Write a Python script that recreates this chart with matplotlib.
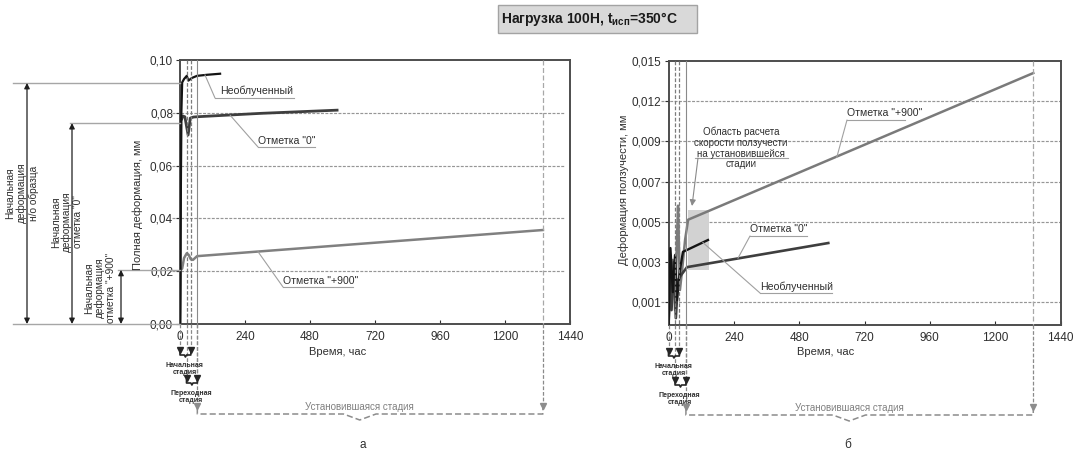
import numpy as np
import matplotlib
matplotlib.use('Agg')
import matplotlib.pyplot as plt
from matplotlib import transforms as mtransforms
from matplotlib.patches import Rectangle

plt.rcParams['font.family'] = ['Liberation Sans', 'DejaVu Sans']

# ---------------- data ----------------
# Panel "а": total deformation, mm, vs time, h
t_unirr_a = [0, 5, 8, 15, 25, 31, 44, 63, 100, 148]
d_unirr_a = [0.0, 0.080, 0.0915, 0.0928, 0.0940, 0.0922, 0.0932, 0.0940, 0.0944, 0.0948]

t_zero_a = [0, 3, 6, 10, 18, 24, 30, 38, 50, 63, 300, 580]
d_zero_a = [0.0, 0.0788, 0.0775, 0.0788, 0.0785, 0.0750, 0.0716, 0.0780, 0.0784, 0.0785, 0.0798, 0.0810]

t_p900_a = [0, 3, 8, 15, 25, 32, 40, 48, 63, 1340]
d_p900_a = [0.0, 0.0205, 0.0210, 0.0250, 0.0268, 0.0262, 0.0245, 0.0243, 0.0257, 0.0356]

# initial deformation levels
init_unirr = 0.0913
init_zero = 0.0761
init_p900 = 0.0205

# Panel "б": creep deformation, mm, vs time, h
t_unirr_b = [0, 7, 16, 24, 31, 42, 53, 145]
d_unirr_b = [0.0, 0.00369, 0.0015, 0.00334, 0.0011, 0.0026, 0.0035, 0.00409]

t_zero_b = [0, 4, 11, 20, 27, 35, 46, 68, 587]
d_zero_b = [0.0, 0.00334, 0.00065, 0.0030, 0.0003, 0.0021, 0.00234, 0.00274, 0.00394]

t_p900_b = [0, 7, 16, 24, 31, 35, 42, 50, 61, 72, 1340]
d_p900_b = [0.0, 0.0011, 0.0031, 0.00065, 0.0041, 0.0058, 0.0016, 0.0026, 0.0041, 0.0051, 0.0141]

# steady-state creep-rate window
calc_t = [70, 150]
calc_d = [0.0026, 0.0056]

# stage boundaries, h
stage_initial = [0, 40]
stage_transition = [24, 64]
stage_steady = [64, 1340]

# axes ticks
x_ticks = [0, 240, 480, 720, 960, 1200, 1440]
y_ticks_a = [0.0, 0.02, 0.04, 0.06, 0.08, 0.10]
y_labels_a = ['0,00', '0,02', '0,04', '0,06', '0,08', '0,10']
grid_a = [0.02, 0.04, 0.06, 0.08]
y_ticks_b = [0.001, 0.003, 0.005, 0.007, 0.009, 0.012, 0.015]
y_labels_b = ['0,001', '0,003', '0,005', '0,007', '0,009', '0,012', '0,015']
grid_b = [0.001, 0.005, 0.007, 0.009, 0.012]

# the creep axis is graduated unevenly: labelled values sit on equal steps
b_axis_vals = [0.0, 0.001, 0.003, 0.005, 0.007, 0.009, 0.012, 0.015]
b_axis_pos = [-0.57, 0, 1, 2, 3, 4, 5, 6]

# ---------------- figure ----------------
W, H = 1074, 451
fig = plt.figure(figsize=(W / 100, H / 100), dpi=100)

# pixel overlay for free annotations
ov = fig.add_axes([0, 0, 1, 1])
ov.set_xlim(0, W)
ov.set_ylim(H, 0)
ov.set_axis_off()
ov.patch.set_visible(False)
ov.set_zorder(5)


def add_px_axes(x0, y0, x1, y1):
    return fig.add_axes([x0 / W, 1 - y1 / H, (x1 - x0) / W, (y1 - y0) / H])


BOX_A = (180, 60, 570, 324)
BOX_B = (668.5, 61, 1060.5, 325)
ax_a = add_px_axes(*BOX_A)
ax_b = add_px_axes(*BOX_B)

C_UNIRR = '#141414'
C_ZERO = '#3e3e3e'
C_P900 = '#808080'
C_GRID = '#969696'
C_LEAD = '#a0a0a0'
C_TEXT = '#2e2e2e'


def style_axes(ax):
    for s in ax.spines.values():
        s.set_color('#4d4d4d')
        s.set_linewidth(1.4)
    ax.set_xlim(0, 1440)
    ax.set_xticks(x_ticks)
    ax.set_xticklabels([str(v) for v in x_ticks])
    ax.tick_params(axis='x', direction='in', length=3, width=0.8, pad=5,
                   labelsize=8.5, colors=C_TEXT, top=False)
    ax.tick_params(axis='y', direction='out', length=3, width=0.8, pad=2,
                   labelsize=8.5, colors=C_TEXT, right=False)


def fwd(v):
    return np.interp(v, b_axis_vals, b_axis_pos)


def inv(p):
    return np.interp(p, b_axis_pos, b_axis_vals)


style_axes(ax_a)
ax_a.set_ylim(0, 0.10)
ax_a.set_yticks(y_ticks_a)
ax_a.set_yticklabels(y_labels_a)

ax_b.set_yscale('function', functions=(fwd, inv))
style_axes(ax_b)
ax_b.set_ylim(0, 0.015)
ax_b.set_yticks(y_ticks_b)
ax_b.set_yticklabels(y_labels_b)
ax_b.yaxis.set_minor_locator(matplotlib.ticker.NullLocator())

for ax, grid in [(ax_a, grid_a), (ax_b, grid_b)]:
    for g in grid:
        ax.axhline(g, xmin=-0.02, xmax=0.985 if ax is ax_a else 1.0, color=C_GRID,
                   lw=0.85, ls=(0, (2.5, 1.2)), clip_on=False, zorder=1)

# lines
ax_a.plot(t_p900_a, d_p900_a, color=C_P900, lw=1.8, zorder=3, solid_joinstyle='round')
ax_a.plot(t_zero_a, d_zero_a, color=C_ZERO, lw=2.0, zorder=4, solid_joinstyle='round')
ax_a.plot(t_unirr_a, d_unirr_a, color=C_UNIRR, lw=1.6, zorder=5, solid_joinstyle='round')

ax_b.fill_between(calc_t, calc_d[0], calc_d[1], color='#d2d2d2', lw=0, zorder=1.5)
ax_b.plot(t_p900_b, d_p900_b, color='#7a7a7a', lw=1.8, zorder=3, solid_joinstyle='round')
ax_b.plot(t_zero_b, d_zero_b, color=C_ZERO, lw=1.9, zorder=4, solid_joinstyle='round')
ax_b.plot(t_unirr_b, d_unirr_b, color=C_UNIRR, lw=1.7, zorder=5, solid_joinstyle='round')


def stage_marks(ax, box, tips):
    ytop, ybot = box[1], box[3]
    tr = mtransforms.blended_transform_factory(ax.transData, ov.transData)
    dark = '#262626'
    grey = '#8c8c8c'
    # guides inside the plot
    for t in (stage_initial[1], stage_transition[0]):
        ov.plot([t, t], [ytop, ybot], transform=tr, color='#7c7c7c', lw=0.9,
                ls=(0, (3, 1.5)), zorder=2)
    ov.plot([stage_steady[0]] * 2, [ytop, ybot], transform=tr, color='#8a8a8a', lw=0.8, zorder=2)
    ov.plot([stage_steady[1]] * 2, [ytop, ybot], transform=tr, color='#a8a8a8', lw=0.9,
            ls=(0, (4, 2)), zorder=2)
    # drops below the time axis
    drops = [(stage_initial[0], tips[0], dark), (stage_initial[1], tips[0], dark),
             (stage_transition[0], tips[1], dark), (stage_transition[1], tips[1], dark),
             (stage_steady[0], tips[2], grey), (stage_steady[1], tips[2], grey)]
    for t, yt, c in drops:
        ov.plot([t, t], [ybot, yt - 2], transform=tr, color='#8a8a8a', lw=0.9,
                ls=(0, (3, 1.5)), zorder=2)
        ov.plot([t], [yt - 2], transform=tr, marker='v', ms=4.5, color=c, mec=c, zorder=3)
    # small braces
    for (t0, t1), yt in [(stage_initial, tips[0]), (stage_transition, tips[1])]:
        tm = 0.5 * (t0 + t1)
        ov.plot([t0, t0, tm - 4, tm, tm + 4, t1, t1],
                [yt, yt + 3, yt + 3, yt + 5, yt + 3, yt + 3, yt],
                transform=tr, color=dark, lw=1.2, zorder=3)
    # long brace
    t0, t1 = stage_steady
    tm = t0 + 0.47 * (t1 - t0)
    yt = tips[2]
    ov.plot([t0, t0, tm - 60, tm, tm + 60, t1, t1],
            [yt, yt + 6, yt + 6, yt + 12, yt + 6, yt + 6, yt],
            transform=tr, color=grey, lw=1.1, ls=(0, (4, 2)), zorder=3)
    ov.text(tm, yt - 1, 'Установившаяся стадия', transform=tr, ha='center', va='center',
            fontsize=7, color='#808080')
    ov.text(18, tips[0] + 17, 'Начальная\nстадия', transform=tr, ha='center', va='center',
            fontsize=5, fontweight='bold', color='#303030', linespacing=1.05)
    ov.text(40, tips[1] + 17, 'Переходная\nстадия', transform=tr, ha='center', va='center',
            fontsize=5, fontweight='bold', color='#303030', linespacing=1.05)


stage_marks(ax_a, BOX_A, (352, 380, 408))
stage_marks(ax_b, BOX_B, (353, 382, 409))

# axis titles
ov.text(138, 205, 'Полная деформация, мм', rotation=90, ha='center', va='center',
        fontsize=8, color=C_TEXT)
ov.text(624, 190, 'Деформация ползучести, мм', rotation=90, ha='center', va='center',
        fontsize=8, color=C_TEXT)
ov.text(338, 352, 'Время, час', ha='center', va='center', fontsize=8, color=C_TEXT)
ov.text(826, 352, 'Время, час', ha='center', va='center', fontsize=8, color=C_TEXT)
ov.text(363, 445, 'а', ha='center', va='center', fontsize=8.5, color=C_TEXT)
ov.text(848, 445, 'б', ha='center', va='center', fontsize=8.5, color=C_TEXT)

# initial deformation dimensions on the left of panel а
tr_a_left = mtransforms.blended_transform_factory(ov.transData, ax_a.transData)
for lvl, xl in [(init_unirr, 13), (init_zero, 70), (init_p900, 118), (0.0, 13)]:
    ov.plot([xl, BOX_A[0]], [lvl, lvl], transform=tr_a_left, color='#a6a6a6', lw=1.0, zorder=2)
for lvl, xa in [(init_unirr, 27), (init_zero, 72), (init_p900, 121)]:
    ov.annotate('', xy=(xa, 0.0), xycoords=tr_a_left, xytext=(xa, lvl), textcoords=tr_a_left,
                arrowprops=dict(arrowstyle='<|-|>', color='#1e1e1e', lw=0.9,
                                mutation_scale=8, shrinkA=0, shrinkB=0))
ov.text(22, 193, 'Начальная\nдеформация\nн/о образца', rotation=90, ha='center', va='center',
        fontsize=7.3, color=C_TEXT, linespacing=1.12)
ov.text(67, 222, 'Начальная\nдеформация\nотметка "0"', rotation=90, ha='center', va='center',
        fontsize=7.3, color=C_TEXT, linespacing=1.12)
ov.text(100, 288, 'Начальная\nдеформация\nотметка "+900"', rotation=90, ha='center',
        va='center', fontsize=7.3, color=C_TEXT, linespacing=1.12)


def callout(ax, xy, elbow, x_end, text, x_text):
    ov.annotate('', xy=xy, xycoords=ax.transData, xytext=elbow, textcoords=ov.transData,
                arrowprops=dict(arrowstyle='-', color=C_LEAD, lw=0.8, shrinkA=0, shrinkB=0))
    ov.plot([elbow[0], x_end], [elbow[1], elbow[1]], color=C_LEAD, lw=0.8)
    ov.text(x_text, elbow[1] - 1.5, text, ha='left', va='bottom', fontsize=7.6, color=C_TEXT)


callout(ax_a, (92, 0.0944), (215, 98), 294, 'Необлученный', 220)
callout(ax_a, (185, 0.0791), (258, 147), 315, 'Отметка "0"', 258)
callout(ax_a, (288, 0.0274), (283, 287), 353, 'Отметка "+900"', 283)

callout(ax_b, (618, 0.0082), (847, 120), 905, 'Отметка "+900"', 847)
callout(ax_b, (255, 0.00318), (750, 236), 807, 'Отметка "0"', 750)
callout(ax_b, (126, 0.00397), (760, 293), 832, 'Необлученный', 760)

# steady-state window note
ov.text(741, 148, 'Область расчета\nскорости ползучести\nна установившейся\nстадии', ha='center',
        va='center', fontsize=7, color=C_TEXT, linespacing=1.1)
ov.plot([695, 788], [158, 158], color=C_LEAD, lw=0.8)
ov.annotate('', xy=(692, 206), xycoords=ov.transData, xytext=(698, 158), textcoords=ov.transData,
            arrowprops=dict(arrowstyle='-|>', color='#8a8a8a', lw=0.8, mutation_scale=9,
                            shrinkA=0, shrinkB=0))

# title plate
ov.add_patch(Rectangle((498, 5), 199, 28, facecolor='#d9d9d9', edgecolor='#a3a3a3', lw=1.0))
ov.text(589, 19, r'Нагрузка 100Н, t$_{\mathregular{исп}}$=350°C', ha='center', va='center',
        fontsize=10, fontweight='bold', color='#1a1a1a')

fig.savefig('out.png', dpi=100)
